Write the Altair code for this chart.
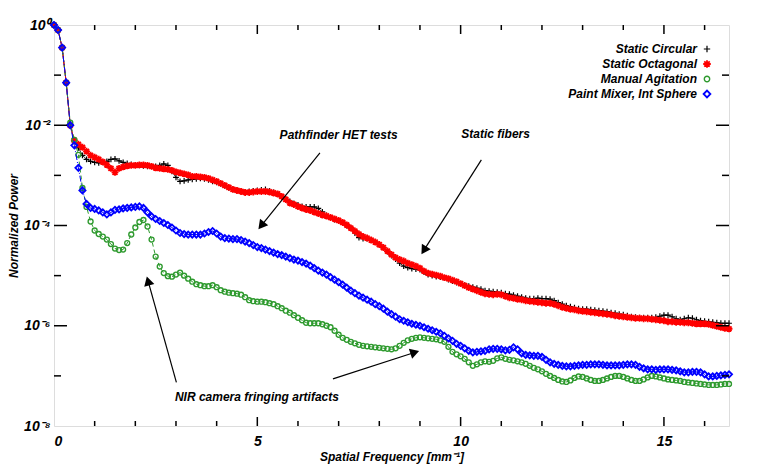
import math
import altair as alt
import pandas as pd

# ---------------- data (log10 of normalized power, sampled every 0.1 mm^-1 from 0.0) ----------------
FREQ_STEP = 0.1

static_circular_log10 = [
    0.00, -0.10, -0.45, -1.15, -2.00, -2.32, -2.45, -2.60, -2.68, -2.72,
    -2.74, -2.75, -2.74, -2.72, -2.68, -2.67, -2.71, -2.74, -2.76, -2.78,
    -2.79, -2.80, -2.81, -2.82, -2.82, -2.82, -2.80, -2.77, -2.80, -2.92,
    -3.04, -3.12, -3.11, -3.09, -3.08, -3.07, -3.06, -3.07, -3.09, -3.12,
    -3.14, -3.17, -3.21, -3.25, -3.28, -3.30, -3.32, -3.33, -3.32, -3.31,
    -3.30, -3.29, -3.28, -3.31, -3.34, -3.37, -3.43, -3.48, -3.52, -3.56,
    -3.59, -3.62, -3.63, -3.63, -3.63, -3.66, -3.73, -3.80, -3.84, -3.88,
    -3.91, -3.95, -4.00, -4.05, -4.15, -4.24, -4.26, -4.26, -4.29, -4.33,
    -4.38, -4.44, -4.52, -4.60, -4.67, -4.75, -4.81, -4.84, -4.86, -4.87,
    -4.88, -4.93, -4.98, -5.00, -5.02, -5.03, -5.05, -5.08, -5.11, -5.14,
    -5.17, -5.19, -5.21, -5.23, -5.25, -5.27, -5.30, -5.31, -5.32, -5.33,
    -5.34, -5.36, -5.37, -5.39, -5.41, -5.43, -5.45, -5.46, -5.46, -5.45,
    -5.46, -5.46, -5.47, -5.50, -5.54, -5.57, -5.60, -5.62, -5.64, -5.66,
    -5.67, -5.67, -5.68, -5.69, -5.70, -5.71, -5.72, -5.74, -5.75, -5.77,
    -5.78, -5.80, -5.82, -5.83, -5.84, -5.84, -5.84, -5.84, -5.83, -5.81,
    -5.79, -5.79, -5.82, -5.86, -5.88, -5.86, -5.84, -5.85, -5.88, -5.90,
    -5.91, -5.92, -5.93, -5.94, -5.95, -5.95, -5.95,
]

static_octagonal_log10 = [
    0.00, -0.10, -0.45, -1.15, -2.00, -2.30, -2.38, -2.44, -2.52, -2.60,
    -2.64, -2.68, -2.73, -2.79, -2.86, -2.94, -2.86, -2.83, -2.81, -2.80,
    -2.80, -2.79, -2.79, -2.80, -2.82, -2.85, -2.86, -2.87, -2.88, -2.90,
    -2.93, -2.95, -2.97, -2.99, -3.02, -3.02, -3.03, -3.04, -3.06, -3.09,
    -3.12, -3.16, -3.20, -3.24, -3.28, -3.30, -3.32, -3.34, -3.34, -3.33,
    -3.32, -3.32, -3.32, -3.33, -3.35, -3.37, -3.42, -3.48, -3.55, -3.58,
    -3.62, -3.65, -3.68, -3.70, -3.73, -3.76, -3.79, -3.81, -3.84, -3.87,
    -3.90, -3.94, -3.99, -4.05, -4.11, -4.17, -4.22, -4.25, -4.29, -4.33,
    -4.38, -4.44, -4.51, -4.58, -4.64, -4.68, -4.71, -4.75, -4.78, -4.81,
    -4.85, -4.91, -4.95, -4.97, -4.99, -5.01, -5.04, -5.06, -5.09, -5.12,
    -5.16, -5.20, -5.24, -5.27, -5.30, -5.33, -5.36, -5.37, -5.38, -5.37,
    -5.38, -5.41, -5.44, -5.45, -5.47, -5.48, -5.50, -5.51, -5.52, -5.53,
    -5.54, -5.55, -5.55, -5.57, -5.60, -5.63, -5.65, -5.67, -5.68, -5.70,
    -5.71, -5.72, -5.73, -5.74, -5.75, -5.76, -5.77, -5.78, -5.80, -5.81,
    -5.82, -5.83, -5.84, -5.85, -5.85, -5.86, -5.86, -5.87, -5.88, -5.89,
    -5.90, -5.92, -5.92, -5.93, -5.93, -5.94, -5.94, -5.95, -5.96, -5.96,
    -5.96, -5.97, -5.99, -6.01, -6.03, -6.05, -6.06,
]

manual_agitation_log10 = [
    0.00, -0.10, -0.45, -1.15, -1.95, -2.29, -2.59, -3.25, -3.63, -3.92,
    -4.10, -4.17, -4.22, -4.28, -4.37, -4.46, -4.49, -4.48, -4.35, -4.18,
    -4.04, -3.93, -3.89, -4.02, -4.28, -4.62, -4.82, -4.95, -5.01, -5.02,
    -4.98, -4.94, -5.00, -5.06, -5.12, -5.17, -5.19, -5.21, -5.21, -5.19,
    -5.23, -5.29, -5.32, -5.34, -5.35, -5.36, -5.38, -5.43, -5.49, -5.51,
    -5.52, -5.52, -5.53, -5.55, -5.57, -5.61, -5.65, -5.70, -5.74, -5.79,
    -5.84, -5.89, -5.94, -5.95, -5.95, -5.95, -5.97, -6.00, -6.03, -6.10,
    -6.18, -6.24, -6.28, -6.32, -6.35, -6.38, -6.40, -6.41, -6.42, -6.43,
    -6.44, -6.45, -6.46, -6.47, -6.45, -6.40, -6.34, -6.29, -6.26, -6.24,
    -6.23, -6.24, -6.25, -6.26, -6.27, -6.29, -6.32, -6.42, -6.52, -6.57,
    -6.61, -6.66, -6.73, -6.80, -6.77, -6.73, -6.71, -6.72, -6.70, -6.65,
    -6.63, -6.66, -6.68, -6.69, -6.71, -6.73, -6.76, -6.80, -6.84, -6.87,
    -6.91, -6.96, -7.00, -7.04, -7.08, -7.11, -7.12, -7.09, -7.04, -7.01,
    -7.02, -7.05, -7.08, -7.10, -7.10, -7.08, -7.05, -7.02, -7.00, -7.00,
    -7.02, -7.05, -7.08, -7.10, -7.10, -7.07, -7.03, -7.00, -7.01, -7.03,
    -7.05, -7.07, -7.08, -7.09, -7.10, -7.12, -7.13, -7.14, -7.15, -7.16,
    -7.17, -7.18, -7.18, -7.18, -7.17, -7.16, -7.16,
]

paint_mixer_log10 = [
    0.00, -0.10, -0.45, -1.15, -2.00, -2.40, -2.85, -3.30, -3.57, -3.65,
    -3.67, -3.70, -3.74, -3.78, -3.74, -3.69, -3.68, -3.66, -3.65, -3.64,
    -3.63, -3.62, -3.65, -3.74, -3.82, -3.87, -3.91, -3.95, -3.99, -4.04,
    -4.10, -4.15, -4.17, -4.18, -4.18, -4.18, -4.18, -4.16, -4.13, -4.11,
    -4.16, -4.22, -4.25, -4.26, -4.27, -4.27, -4.29, -4.32, -4.35, -4.39,
    -4.43, -4.45, -4.48, -4.51, -4.54, -4.57, -4.59, -4.62, -4.65, -4.68,
    -4.70, -4.73, -4.76, -4.80, -4.85, -4.90, -4.94, -4.98, -5.03, -5.08,
    -5.13, -5.18, -5.24, -5.30, -5.35, -5.40, -5.44, -5.48, -5.52, -5.57,
    -5.61, -5.66, -5.72, -5.77, -5.82, -5.87, -5.90, -5.93, -5.96, -5.98,
    -6.00, -6.03, -6.06, -6.09, -6.12, -6.15, -6.20, -6.25, -6.30, -6.36,
    -6.40, -6.45, -6.50, -6.53, -6.52, -6.51, -6.50, -6.47, -6.46, -6.46,
    -6.47, -6.49, -6.48, -6.43, -6.47, -6.55, -6.58, -6.59, -6.60, -6.60,
    -6.62, -6.68, -6.73, -6.76, -6.78, -6.80, -6.81, -6.81, -6.80, -6.79,
    -6.78, -6.78, -6.77, -6.77, -6.77, -6.78, -6.79, -6.79, -6.79, -6.79,
    -6.78, -6.77, -6.77, -6.78, -6.82, -6.85, -6.87, -6.87, -6.88, -6.87,
    -6.87, -6.87, -6.88, -6.89, -6.91, -6.93, -6.93, -6.92, -6.92, -6.93,
    -6.97, -7.01, -7.01, -7.00, -6.99, -6.98, -6.97,
]

series_names = ["Static Circular", "Static Octagonal", "Manual Agitation", "Paint Mixer, Int Sphere"]
series_values = [static_circular_log10, static_octagonal_log10, manual_agitation_log10, paint_mixer_log10]

x_tick_labels = [0, 5, 10, 15]
x_minor_ticks = [1, 2, 3, 4, 6, 7, 8, 9, 11, 12, 13, 14, 16]
x_major_ticks = [5, 10, 15]
y_major_ticks = [1e-2, 1e-4, 1e-6]
y_label_values = [1, 1e-2, 1e-4, 1e-6, 1e-8]
y_minor_ticks = [1e-1, 1e-3, 1e-5, 1e-7]

# annotations: text (x, log10 power) and arrows (start -> head)
note_texts = ["Pathfinder HET tests", "Static fibers", "NIR camera fringing artifacts"]
note_x = [7.0, 10.86, 4.99]
note_log = [-2.19, -2.17, -7.42]
arrow_start_x = [6.54, 10.51, 3.01, 6.86]
arrow_start_log = [-2.55, -2.69, -7.13, -7.06]
arrow_head_x = [5.02, 9.03, 2.28, 8.99]
arrow_head_log = [-4.08, -4.58, -5.01, -6.50]

# ---------------- style ----------------
W, H = 675, 401
XMAX = 16.6
FONT = "Liberation Sans, Arial, Helvetica, sans-serif"
COLORS = ["#000000", "#ff0000", "#2e9a2e", "#0000ff"]
PLUS = "M-1,0L1,0M0,-1L0,1"
ASTER = "M-1,0L1,0M0,-1L0,1M-0.72,-0.72L0.72,0.72M-0.72,0.72L0.72,-0.72"
SHAPES = [PLUS, ASTER, "circle", "diamond"]
SIZES = [34, 48, 24, 38]
STROKES = [1.2, 1.8, 1.4, 1.8]
DASHES = [[1, 0], [1, 0], [4, 3], [6, 2, 1, 2]]

xscale = alt.Scale(domain=[0, XMAX], nice=False, zero=False)
yscale = alt.Scale(type="log", domain=[1e-8, 1], nice=False)

rows = []
for name, vals in zip(series_names, series_values):
    for i, v in enumerate(vals):
        rows.append({"series": name, "freq": round(i * FREQ_STEP, 1), "power": 10 ** v})
df = pd.DataFrame(rows)

y_label_expr = (
    "datum.value >= 0.5 ? '10⁰' : datum.value >= 0.005 ? '10⁻²' : "
    "datum.value >= 0.00005 ? '10⁻⁴' : datum.value >= 0.0000005 ? '10⁻⁶' : '10⁻⁸'"
)

X_AXIS = alt.Axis(
    values=x_tick_labels, ticks=False, tickSize=0, domain=False, grid=False,
    labelFont=FONT, labelFontSize=14, labelFontStyle="italic", labelFontWeight="bold",
    labelPadding=8, labelColor="black",
    title="Spatial Frequency [mm⁻¹]", titleFont=FONT, titleFontSize=12,
    titleFontStyle="italic", titleFontWeight="bold", titleColor="black",
    titleX=W / 2, titleY=30, titleAlign="center", titleBaseline="middle",
)
Y_AXIS = alt.Axis(
    values=y_label_values, labelExpr=y_label_expr, ticks=False, tickSize=0,
    domain=False, grid=False,
    labelFont=FONT, labelFontSize=14, labelFontStyle="italic", labelFontWeight="bold",
    labelPadding=4, labelColor="black",
    title="Normalized Power", titleFont=FONT, titleFontSize=12,
    titleFontStyle="italic", titleFontWeight="bold", titleColor="black",
    titleX=-41, titleY=H / 2, titleAngle=270, titleAlign="center", titleBaseline="middle",
)


def X(field):
    return alt.X(field, scale=xscale, axis=X_AXIS)


def Y(field):
    return alt.Y(field, scale=yscale, axis=Y_AXIS)


layers = []
for k, name in enumerate(series_names):
    sub = df[df["series"] == name]
    line = alt.Chart(sub).mark_line(
        color=COLORS[k], strokeWidth=1, strokeDash=DASHES[k]
    ).encode(x=X("freq:Q"), y=Y("power:Q"))
    pts = alt.Chart(sub).mark_point(
        shape=SHAPES[k], filled=False, color=COLORS[k], size=SIZES[k],
        strokeWidth=STROKES[k], opacity=1
    ).encode(x=X("freq:Q"), y=Y("power:Q"))
    layers += [line, pts]


# ---------------- inward tick marks on all four sides ----------------
def xticks(vals, length):
    d = pd.DataFrame({"freq": vals})
    bottom = alt.Chart(d).mark_rule(color="black", strokeWidth=1.5).encode(
        x=X("freq:Q"), y=alt.value(H), y2=alt.value(H - length))
    top = alt.Chart(d).mark_rule(color="black", strokeWidth=1.5).encode(
        x=X("freq:Q"), y=alt.value(0), y2=alt.value(length))
    return [bottom, top]


def yticks(vals, length):
    d = pd.DataFrame({"power": vals})
    left = alt.Chart(d).mark_rule(color="black", strokeWidth=1.5).encode(
        y=Y("power:Q"), x=alt.value(0), x2=alt.value(length))
    right = alt.Chart(d).mark_rule(color="black", strokeWidth=1.5).encode(
        y=Y("power:Q"), x=alt.value(W), x2=alt.value(W - length))
    return [left, right]


layers += xticks(x_minor_ticks, 5) + xticks(x_major_ticks, 9)
layers += yticks(y_minor_ticks, 7) + yticks(y_major_ticks, 13)

# ---------------- annotations ----------------
notes = pd.DataFrame({"text": note_texts, "freq": note_x, "power": [10 ** v for v in note_log]})
layers.append(
    alt.Chart(notes).mark_text(
        font=FONT, fontSize=12, fontStyle="italic", fontWeight="bold", color="black",
        align="center", baseline="middle"
    ).encode(x=X("freq:Q"), y=Y("power:Q"), text="text:N")
)


def to_px(x, lg):
    return x / XMAX * W, -lg / 8 * H


def from_px(px, py):
    return px / W * XMAX, -py / H * 8


arrow_rows, head_rows = [], []
for sx, sl, hx, hl in zip(arrow_start_x, arrow_start_log, arrow_head_x, arrow_head_log):
    spx, spy = to_px(sx, sl)
    hpx, hpy = to_px(hx, hl)
    dx, dy = hpx - spx, hpy - spy
    n = math.hypot(dx, dy)
    ux, uy = dx / n, dy / n
    ex, ey = from_px(hpx - 7 * ux, hpy - 7 * uy)
    cx, cy = from_px(hpx - 5 * ux, hpy - 5 * uy)
    ang = math.degrees(math.atan2(dx, -dy)) % 360
    arrow_rows.append({"freq": sx, "power": 10 ** sl, "freq2": ex, "power2": 10 ** ey})
    head_rows.append({"freq": cx, "power": 10 ** cy, "ang": ang})

arrows = pd.DataFrame(arrow_rows)
heads = pd.DataFrame(head_rows)
layers.append(
    alt.Chart(arrows).mark_rule(color="black", strokeWidth=1.2).encode(
        x=X("freq:Q"), y=Y("power:Q"), x2="freq2:Q", y2="power2:Q")
)
layers.append(
    alt.Chart(heads).mark_point(shape="triangle-up", filled=True, color="black", size=110, opacity=1).encode(
        x=X("freq:Q"), y=Y("power:Q"), angle=alt.Angle("ang:Q", scale=None))
)

# ---------------- legend (labels left of symbols, top right) ----------------
LEG_X_TEXT = 643
LEG_X_SYM = 653
LEG_Y0 = 24
LEG_DY = 15
for k, name in enumerate(series_names):
    yy = LEG_Y0 + k * LEG_DY
    leg = pd.DataFrame({"label": [name]})
    layers.append(
        alt.Chart(leg).mark_text(
            font=FONT, fontSize=12, fontStyle="italic", fontWeight="bold", color="black",
            align="right", baseline="middle"
        ).encode(x=alt.value(LEG_X_TEXT), y=alt.value(yy), text="label:N")
    )
    layers.append(
        alt.Chart(leg).mark_point(
            shape=SHAPES[k], filled=False, color=COLORS[k], size=SIZES[k] * 1.2,
            strokeWidth=STROKES[k], opacity=1
        ).encode(x=alt.value(LEG_X_SYM), y=alt.value(yy))
    )

chart = alt.layer(*layers).properties(
    width=W, height=H,
    autosize="none",
    padding={"left": 46, "top": 17, "right": 24, "bottom": 42},
).configure_view(stroke="black", strokeWidth=2).configure(background="white")

chart.save("out.html", embed_options={"renderer": "svg", "actions": False})
